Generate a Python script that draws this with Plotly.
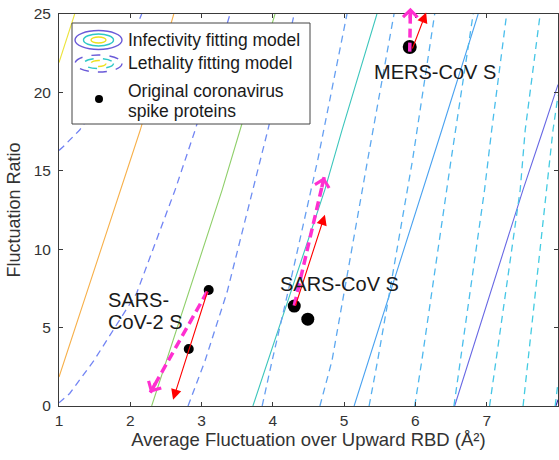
import plotly.graph_objects as go

# ---------------- data ----------------
# Infectivity fitting model: solid contour lines (x, y vertices of each line)
infect_x = [
    [1.00, 1.22],
    [1.00, 1.86, 2.14, 2.61],
    [2.30, 3.29, 3.54, 4.03],
    [3.72, 4.73, 4.97, 5.46],
    [5.14, 5.78, 6.11, 6.37, 6.88],
    [6.55, 7.51, 7.79, 8.00],
    [7.97, 8.00],
]
infect_y = [
    [21.9, 25.0],
    [1.85, 13.8, 17.6, 25.0],
    [0.0, 13.8, 17.6, 25.0],
    [0.0, 13.8, 17.6, 25.0],
    [0.0, 9.1, 13.8, 17.6, 25.0],
    [0.0, 13.8, 17.6, 20.5],
    [0.0, 0.4],
]

# Lethality fitting model: dashed contour lines
lethal_x = [
    [1.00, 1.05, 1.29, 1.60, 1.90, 2.16],
    [1.00, 1.15, 1.49, 2.09, 2.63, 2.91, 3.40],
    [2.81, 3.05, 3.36, 3.72, 3.93, 4.30],
    [3.85, 3.99, 4.30, 4.63, 5.04],
    [4.66, 4.83, 5.33, 5.70],
    [5.35, 5.47, 5.96, 6.27],
    [5.99, 6.09, 6.50, 6.81],
    [6.54, 6.97, 7.07, 7.28],
    [7.04, 7.47, 7.54, 7.75],
    [7.51, 7.93, 8.00],
    [7.96, 8.00],
]
lethal_y = [
    [16.3, 16.5, 17.6, 19.6, 22.1, 25.0],
    [0.2, 0.8, 2.9, 7.2, 13.8, 17.6, 25.0],
    [0.0, 2.9, 7.3, 13.8, 17.6, 25.0],
    [0.0, 2.9, 9.0, 15.7, 25.0],
    [0.0, 2.9, 15.7, 25.0],
    [0.0, 2.9, 15.7, 25.0],
    [0.0, 2.9, 15.7, 25.0],
    [0.0, 13.8, 17.6, 25.0],
    [0.0, 13.8, 17.6, 25.0],
    [0.0, 17.6, 19.8],
    [0.0, 1.5],
]

# Original coronavirus spike proteins (and their mutants)
protein_x = [3.10, 2.82, 4.30, 4.49, 5.92]
protein_y = [7.40, 3.63, 6.37, 5.54, 22.90]

# Text labels
label_text = ["SARS-", "CoV-2 S", "SARS-CoV S", "MERS-CoV S"]
label_x = [1.66, 1.66, 4.935, 6.274]
label_y = [6.79, 5.33, 7.75, 21.30]

# Red arrows (start -> tip)
red_x0 = [3.09, 4.31, 5.95]
red_y0 = [7.40, 6.30, 22.70]
red_x1 = [2.60, 4.73, 6.15]
red_y1 = [0.40, 12.20, 25.10]

# Magenta dashed arrows (start -> tip)
mag_x0 = [3.08, 4.30, 5.92]
mag_y0 = [7.30, 6.40, 22.60]
mag_x1 = [2.28, 4.72, 5.93]
mag_y1 = [0.85, 14.60, 25.40]

legend_text = ["Infectivity fitting model", "Lethality fitting model",
               "Original coronavirus", "spike proteins"]

x_ticks = [1, 2, 3, 4, 5, 6, 7, 8]
y_ticks = [0, 5, 10, 15, 20, 25]
x_title = "Average Fluctuation over Upward RBD (Å²)"
y_title = "Fluctuation Ratio"

# ---------------- styles ----------------
W, H = 559, 460
L, R, T, B = 59, 1, 14, 54
PW, PH = W - L - R, H - T - B
XR, YR = (1, 8), (0, 25)
FONT = "Liberation Sans, Arial, Helvetica, sans-serif"
AX = "#3a3a3a"

infect_colors = ["#ece33a", "#f7b04a", "#8fcf6a", "#3cc6bc", "#4aa2f0", "#6868e4", "#3e26a8"]
lethal_colors = ["#6f80f2", "#7284f4", "#6e8ef2", "#669ff2", "#5ea8f0", "#56b0f0",
                 "#4eb8ee", "#4abeec", "#46c6e6", "#44cce2", "#44cce2"]
protein_sizes = [10, 10, 13, 13, 14]


def px2paper(px, py):
    return (px - L) / PW, (H - B - py) / PH


fig = go.Figure()

for xs, ys, c in zip(infect_x, infect_y, infect_colors):
    fig.add_trace(go.Scatter(x=xs, y=ys, mode="lines", line=dict(color=c, width=1.1),
                             hoverinfo="skip", showlegend=False))
for xs, ys, c in zip(lethal_x, lethal_y, lethal_colors):
    fig.add_trace(go.Scatter(x=xs, y=ys, mode="lines",
                             line=dict(color=c, width=1.3, dash="7px,5px"),
                             hoverinfo="skip", showlegend=False))

fig.add_trace(go.Scatter(x=protein_x, y=protein_y, mode="markers", opacity=1,
                         marker=dict(color="#000000", size=protein_sizes, opacity=1,
                                     line=dict(width=0)),
                         showlegend=False))

# magenta dashed shafts
for x0, y0, x1, y1 in zip(mag_x0, mag_y0, mag_x1, mag_y1):
    fig.add_trace(go.Scatter(x=[x0, x1], y=[y0, y1], mode="lines",
                             line=dict(color="#ff2fd0", width=3.5, dash="9px,5px"),
                             hoverinfo="skip", showlegend=False))

annotations = []
sx = PW / (XR[1] - XR[0])
sy = PH / (YR[1] - YR[0])
# magenta chevron heads
for x0, y0, x1, y1 in zip(mag_x0, mag_y0, mag_x1, mag_y1):
    dx, dy = (x1 - x0) * sx, (y1 - y0) * sy
    ln = (dx * dx + dy * dy) ** 0.5
    f = 12.0 / ln
    annotations.append(dict(x=x1, y=y1, ax=x1 - (x1 - x0) * f, ay=y1 - (y1 - y0) * f,
                            xref="x", yref="y", axref="x", ayref="y", text="",
                            showarrow=True, arrowhead=4, arrowsize=0.8, arrowwidth=3.5,
                            arrowcolor="#ff2fd0", standoff=0, startstandoff=0))
# red arrows
for x0, y0, x1, y1 in zip(red_x0, red_y0, red_x1, red_y1):
    annotations.append(dict(x=x1, y=y1, ax=x0, ay=y0, xref="x", yref="y",
                            axref="x", ayref="y", text="", showarrow=True,
                            arrowhead=2, arrowsize=1.9, arrowwidth=1.1,
                            arrowcolor="#ff0000", standoff=0, startstandoff=0))
# text labels
anchors = ["left", "left", "center", "center"]
for t, x, y, a in zip(label_text, label_x, label_y, anchors):
    annotations.append(dict(x=x, y=y, xref="x", yref="y", text=t, showarrow=False,
                            xanchor=a, yanchor="middle",
                            font=dict(family=FONT, size=20, color="#1a1a1a")))

# ---------------- custom legend ----------------
shapes = []
bx0, by0 = px2paper(72, 124)
bx1, by1 = px2paper(310, 23)
shapes.append(dict(type="rect", xref="paper", yref="paper", x0=bx0, y0=by0, x1=bx1, y1=by1,
                   fillcolor="white", line=dict(color="#444444", width=1), layer="above"))


def ellipse(cx, cy, rx, ry, color, dash):
    ex0, ey0 = px2paper(cx - rx, cy + ry)
    ex1, ey1 = px2paper(cx + rx, cy - ry)
    return dict(type="circle", xref="paper", yref="paper", x0=ex0, y0=ey0, x1=ex1, y1=ey1,
                line=dict(color=color, width=1.4, dash=dash), layer="above")


for (cy, dash) in [(40, "solid"), (63.5, "dash")]:
    shapes.append(ellipse(98.5, cy, 23.5, 9.5 if dash == "solid" else 8.5, "#6a5ad8", dash))
    shapes.append(ellipse(98.5, cy, 15, 6 if dash == "solid" else 5, "#2ec8c8", dash))
    shapes.append(ellipse(98.5, cy, 7.5, 3, "#ede01e", dash))
dx0, dy0 = px2paper(95, 103)
dx1, dy1 = px2paper(103, 95)
shapes.append(dict(type="circle", xref="paper", yref="paper", x0=dx0, y0=dy0, x1=dx1, y1=dy1,
                   fillcolor="black", line=dict(color="black", width=0), layer="above"))

for t, py in zip(legend_text, [40, 63, 91, 111]):
    lx, ly = px2paper(126, py)
    annotations.append(dict(x=lx, y=ly, xref="paper", yref="paper", text=t, showarrow=False,
                            xanchor="left", yanchor="middle",
                            font=dict(family=FONT, size=17.5, color="#1a1a1a")))

fig.update_layout(
    width=W, height=H, margin=dict(l=L, r=R, t=T, b=B, pad=0),
    paper_bgcolor="white", plot_bgcolor="white",
    font=dict(family=FONT, color=AX),
    showlegend=False,
    shapes=shapes, annotations=annotations,
    xaxis=dict(range=list(XR), tickvals=x_ticks, ticktext=[str(v) for v in x_ticks],
               ticks="inside", ticklen=4, tickcolor=AX, showline=True, linecolor=AX,
               linewidth=1, mirror="ticks", showgrid=False, zeroline=False,
               tickfont=dict(size=15.5, color="#333333"),
               title=dict(text=x_title, font=dict(size=18.5, color="#333333"), standoff=4)),
    yaxis=dict(range=list(YR), tickvals=y_ticks, ticktext=[str(v) for v in y_ticks],
               ticks="inside", ticklen=4, tickcolor=AX, showline=True, linecolor=AX,
               linewidth=1, mirror="ticks", showgrid=False, zeroline=False,
               tickfont=dict(size=15.5, color="#333333"), ticklabelstandoff=4,
               title=dict(text=y_title, font=dict(size=18, color="#333333"), standoff=8)),
)

fig.write_html("out.html")
